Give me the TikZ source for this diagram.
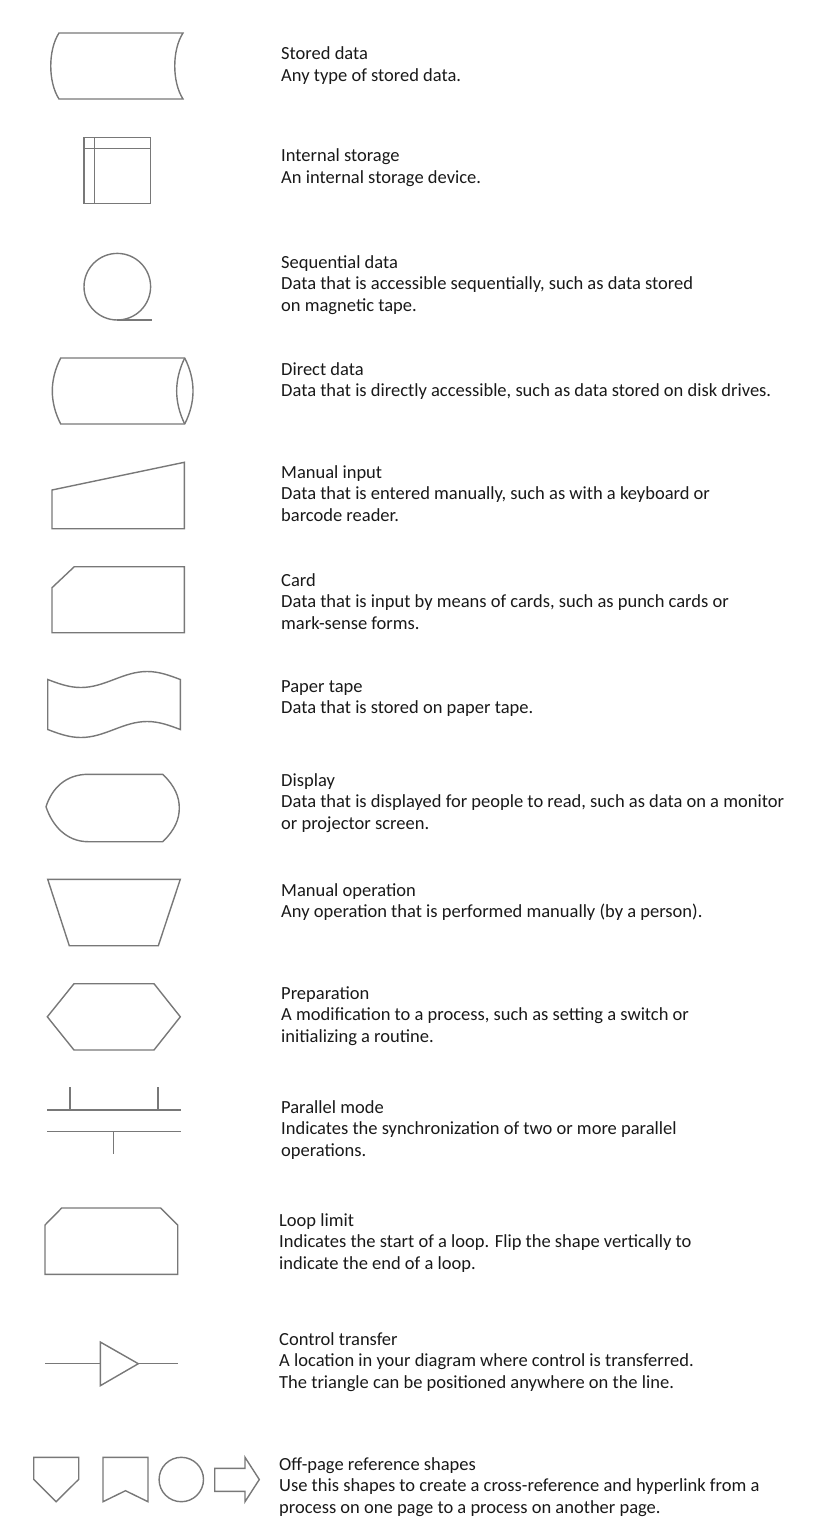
\documentclass[tikz,border=0pt]{standalone}
\usepackage{fontspec}
\setmainfont{Carlito}
\usepackage{tikz}
\definecolor{ShapeLine}{RGB}{120,120,120}
\definecolor{DescText}{RGB}{25,25,25}

\begin{document}
\begin{tikzpicture}[
    x=1pt, y=-1pt,
    shp/.style={draw=ShapeLine, line width=1.4pt, line join=miter},
    desc/.style={anchor=base west, align=left, inner sep=0pt, text=DescText, font=\fontsize{18.5}{21.7}\selectfont}
]
    \useasboundingbox (0,0) rectangle (832,1530);
    % stored data
    \draw[shp] (59,33) -- (183,33) .. controls (172,50) and (172,82) .. (183,99) -- (59,99) .. controls (48,82) and (48,50) .. (59,33) -- cycle;
    \node[desc] (storeddata) at (281,81.7) {Stored data\\Any type of stored data.};
    % internal storage
    \draw[shp] (84,137.3) rectangle (150.3,203.3);
    \draw[shp] (94.7,137.3) -- (94.7,203.3);
    \draw[shp] (84,148.7) -- (150.3,148.7);
    \node[desc] (internal) at (281,183.7) {Internal storage\\An internal storage device.};
    % sequential data
    \draw[shp] (117.3,286.7) circle[radius=33.3];
    \draw[shp] (117.3,320) -- (151.7,320);
    \node[desc] (sequential) at (281,311.4) {Sequential data\\Data that is accessible sequentially, such as data stored\\on magnetic tape.};
    % direct data
    \draw[shp] (60.7,358) -- (184.7,358) .. controls (195.8,380) and (195.8,402) .. (184.7,424) -- (60.7,424) .. controls (49.5,402) and (49.5,380) .. (60.7,358) -- cycle;
    \draw[shp] (184.7,358) .. controls (174,380) and (174,402) .. (184.7,424);
    \node[desc] (direct) at (281,396.7) {Direct data\\Data that is directly accessible, such as data stored on disk drives.};
    % manual input
    \draw[shp] (52,490) -- (184.3,462.3) -- (184.3,528.7) -- (52,528.7) -- cycle;
    \node[desc] (manualin) at (281,521.4) {Manual input\\Data that is entered manually, such as with a keyboard or\\barcode reader.};
    % card
    \draw[shp] (52,587.7) -- (74.3,566.7) -- (184.3,566.7) -- (184.3,632.7) -- (52,632.7) -- cycle;
    \node[desc] (card) at (281,629.4) {Card\\Data that is input by means of cards, such as punch cards or\\mark-sense forms.};
    % paper tape
    \draw[shp] (47.7,679.5) sin (80.85,687.5) cos (114,679.5) sin (147.15,671.5) cos (180.3,679.5)
        -- (180.3,729.5) sin (147.15,721.5) cos (114,729.5) sin (80.85,737.5) cos (47.7,729.5) -- cycle;
    \node[desc] (papertape) at (281,713.7) {Paper tape\\Data that is stored on paper tape.};
    % display
    \draw[shp] (88.3,774.3) -- (162.7,774.3) .. controls (175,786) and (179.3,797) .. (179.3,808)
        .. controls (179.3,819) and (175,830) .. (162.7,841.7) -- (88.3,841.7)
        .. controls (66,841.7) and (52,825) .. (46,806.7) .. controls (52,788) and (66,774.3) .. (88.3,774.3) -- cycle;
    \node[desc] (display) at (281,829.4) {Display\\Data that is displayed for people to read, such as data on a monitor\\or projector screen.};
    % manual operation
    \draw[shp] (47.7,879.3) -- (180.3,879.3) -- (158.3,945.7) -- (69.3,945.7) -- cycle;
    \node[desc] (manualop) at (281,917.7) {Manual operation\\Any operation that is performed manually (by a person).};
    % preparation
    \draw[shp] (74,983.7) -- (154,983.7) -- (180.3,1016.8) -- (154,1050) -- (74,1050) -- (47.3,1016.8) -- cycle;
    \node[desc] (preparation) at (281,1042.4) {Preparation\\A modification to a process, such as setting a switch or\\initializing a routine.};
    % parallel mode
    \draw[shp] (47,1110) -- (181,1110);
    \draw[shp] (70,1087.3) -- (70,1110);
    \draw[shp] (158,1087.3) -- (158,1110);
    \draw[shp] (47,1131.7) -- (181,1131.7);
    \draw[shp] (113.7,1131.7) -- (113.7,1154);
    \node[desc] (parallel) at (281,1156.4) {Parallel mode\\Indicates the synchronization of two or more parallel\\operations.};
    % loop limit
    \draw[shp] (45,1225) -- (61.7,1208) -- (160.7,1208) -- (177.7,1225) -- (177.7,1274.3) -- (45,1274.3) -- cycle;
    \node[desc] (looplimit) at (279,1269.4) {Loop limit\\Indicates the start of a loop. Flip the shape vertically to\\indicate the end of a loop.};
    % control transfer
    \draw[shp] (45,1363.7) -- (100.3,1363.7);
    \draw[shp] (100.3,1342) -- (138.3,1363.7) -- (100.3,1385.7) -- cycle;
    \draw[shp] (138.3,1363.7) -- (177.7,1363.7);
    \node[desc] (control) at (279,1388.4) {Control transfer\\A location in your diagram where control is transferred.\\The triangle can be positioned anywhere on the line.};
    % off-page reference shapes
    \draw[shp] (33.7,1457.3) -- (78.7,1457.3) -- (78.7,1479.3) -- (56.2,1501.7) -- (33.7,1479.3) -- cycle;
    \draw[shp] (103,1457.3) -- (148,1457.3) -- (148,1501.7) -- (125.5,1490.7) -- (103,1501.7) -- cycle;
    \draw[shp] (181.3,1479.5) circle[radius=22.2];
    \draw[shp] (214.7,1468.3) -- (245,1468.3) -- (245,1457.3) -- (259.3,1479.5) -- (245,1501.7) -- (245,1491.3) -- (214.7,1491.3) -- cycle;
    \node[desc] (offpage) at (279,1513.4) {Off-page reference shapes\\Use this shapes to create a cross-reference and hyperlink from a\\process on one page to a process on another page.};
\end{tikzpicture}
\end{document}
